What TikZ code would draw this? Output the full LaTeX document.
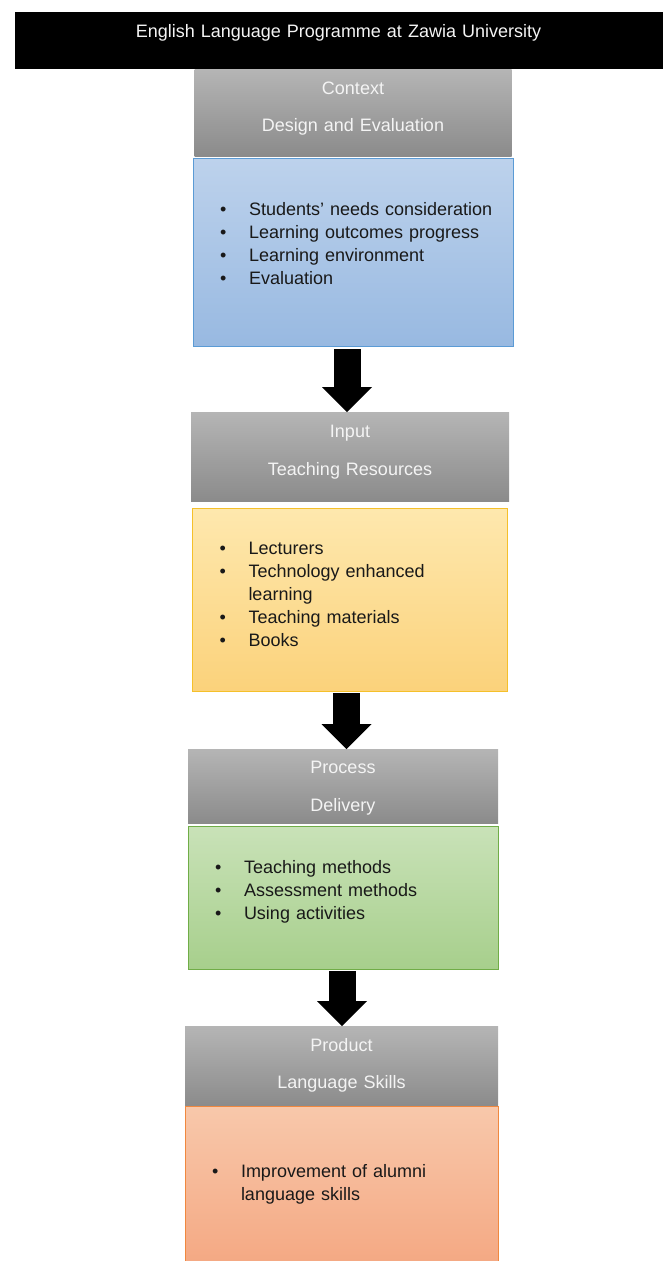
\documentclass[tikz,border=0pt]{standalone}
\usepackage{fontspec}
\setmainfont{Liberation Sans}
\usepackage{array}
\usetikzlibrary{positioning}
\usetikzlibrary{arrows.meta}
\definecolor{headtop}{HTML}{B5B5B5}
\definecolor{headbot}{HTML}{8B8B8B}
\definecolor{headtext}{HTML}{F4F4F4}
\definecolor{bluetop}{HTML}{BDD2EC}
\definecolor{bluebot}{HTML}{98B9E1}
\definecolor{blueline}{HTML}{5B9BD5}
\definecolor{yellowtop}{HTML}{FEE8AE}
\definecolor{yellowbot}{HTML}{FBD27B}
\definecolor{yellowline}{HTML}{F5C02A}
\definecolor{greentop}{HTML}{C9E2B8}
\definecolor{greenbot}{HTML}{A7CF8C}
\definecolor{greenline}{HTML}{70AD47}
\definecolor{orangetop}{HTML}{F8C8AB}
\definecolor{orangebot}{HTML}{F4A680}
\definecolor{orangeline}{HTML}{F0883F}
\tikzset{every picture/.style={line width=1pt},
  head/.style={inner sep=0pt, outer sep=0pt, top color=headtop, bottom color=headbot, text=headtext, align=center, font=\fontsize{18}{22}\selectfont},
  body/.style={draw, inner xsep=27pt, inner ysep=0pt, outer sep=0pt, align=left, text=black!90, font=\fontsize{18}{23}\selectfont},
  bluebox/.style={draw=blueline, top color=bluetop, bottom color=bluebot},
  yellowbox/.style={draw=yellowline, top color=yellowtop, bottom color=yellowbot},
  greenbox/.style={draw=greenline, top color=greentop, bottom color=greenbot},
  orangebox/.style={draw=orangeline, top color=orangetop, bottom color=orangebot},
  bigarrow/.style={line width=27pt, -{Triangle[width=50pt,length=25pt,line width=0pt]}}}
\begin{document}
\begin{tikzpicture}
\useasboundingbox (0,0) rectangle (662pt,-1261pt);
\node (title) [anchor=north west, fill=black, text=headtext, inner sep=0pt, text width=648pt, align=center, text height=26.3pt, text depth=30.7pt, font=\fontsize{18}{22}\selectfont] at (14pt,-11pt) {English Language Programme at Zawia University};
% context
\node (ctx) [head, text width=317pt, text height=25.3pt, text depth=61.7pt, below=0pt of title, xshift=14.5pt] {Context\\[15.5pt]Design and Evaluation};
\node (ctxbox) [body, bluebox, text width=266pt, text height=57pt, text depth=131pt, below=2pt of ctx] {\begin{tabular}[t]{@{}p{29pt}@{}l@{}}
\textbullet & Students' needs consideration\\
\textbullet & Learning outcomes progress\\
\textbullet & Learning environment\\
\textbullet & Evaluation
\end{tabular}};
% input
\node (inhead) [head, text width=318pt, text height=25.7pt, text depth=63.3pt, below=66pt of ctxbox, xshift=-3pt] {Input\\[15.5pt]Teaching Resources};
\node (inbox) [body, yellowbox, text width=261pt, text height=46pt, text depth=137pt, below=7pt of inhead] {\begin{tabular}[t]{@{}p{29pt}@{}l@{}}
\textbullet & Lecturers\\
\textbullet & Technology enhanced\\
 & learning\\
\textbullet & Teaching materials\\
\textbullet & Books
\end{tabular}};
% process
\node (prochead) [head, text width=310pt, text height=24.7pt, text depth=49.3pt, below=58pt of inbox, xshift=-7pt] {Process\\[15.5pt]Delivery};
\node (procbox) [body, greenbox, text width=256pt, text height=47pt, text depth=96pt, below=3pt of prochead] {\begin{tabular}[t]{@{}p{29pt}@{}l@{}}
\textbullet & Teaching methods\\
\textbullet & Assessment methods\\
\textbullet & Using activities
\end{tabular}};
% product
\node (prodhead) [head, text width=313pt, text height=25pt, text depth=55pt, below=57pt of procbox, xshift=-1.5pt] {Product\\[15.5pt]Language Skills};
\node (prodbox) [body, orangebox, text width=259pt, text height=71pt, text depth=99pt, below=0pt of prodhead] {\begin{tabular}[t]{@{}p{29pt}@{}l@{}}
\textbullet & Improvement of alumni\\
 & language skills
\end{tabular}};
\draw[bigarrow] ([xshift=-6pt,yshift=-3pt]ctxbox.south) -- ([xshift=-3pt]inhead.north);
\draw[bigarrow] ([xshift=-3.5pt,yshift=-2pt]inbox.south) -- ([xshift=3.5pt]prochead.north);
\draw[bigarrow] ([xshift=-1pt,yshift=-2pt]procbox.south) -- ([xshift=0.5pt]prodhead.north);
\end{tikzpicture}
\end{document}
